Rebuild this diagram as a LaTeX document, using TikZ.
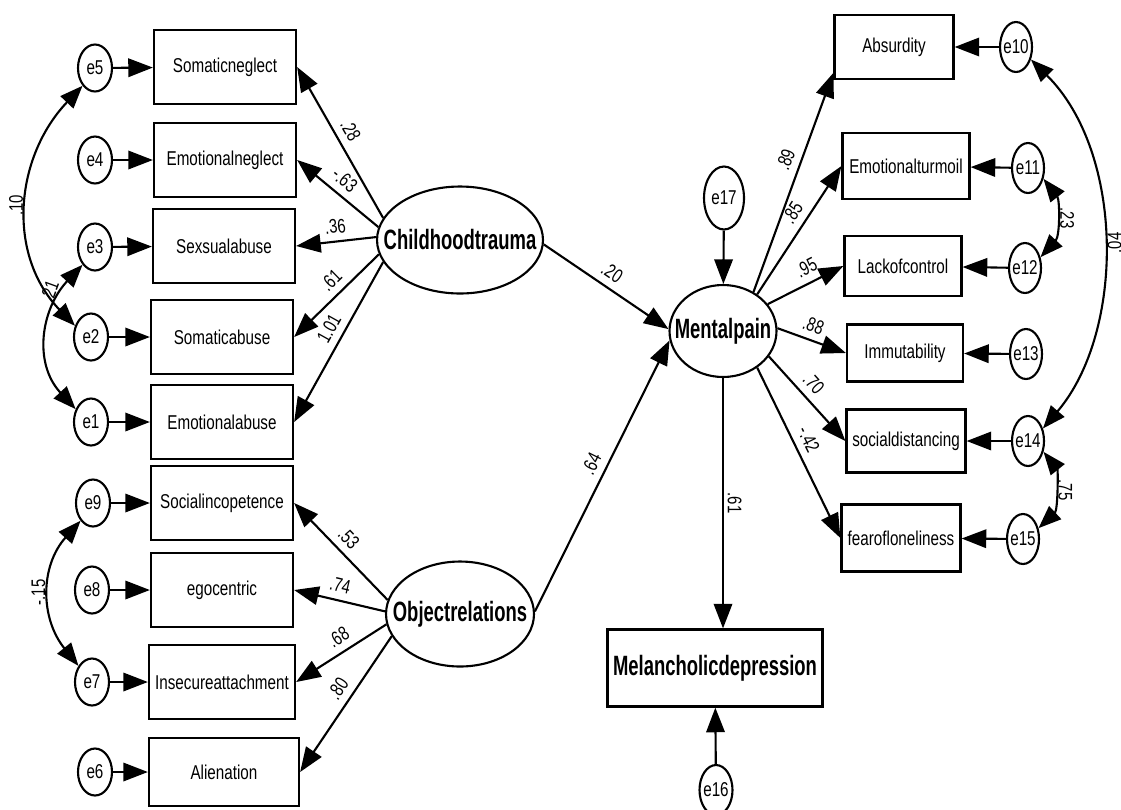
\documentclass[tikz,border=0pt]{standalone}
\usepackage{fontspec}
\newfontfamily\amosfont[FakeStretch=0.76]{Liberation Sans}
\newfontfamily\amosboldfont[FakeStretch=0.66]{Liberation Sans}
\newcommand{\obsfont}{\amosfont\fontsize{11.4pt}{13pt}\selectfont}
\newcommand{\latfont}{\amosboldfont\bfseries\fontsize{15.9pt}{18pt}\selectfont}
\newcommand{\coeffont}{\amosfont\fontsize{11.2pt}{13pt}\selectfont}
\newcommand{\zw}[1]{\makebox[0pt]{#1}}
\usepackage{tikz}
\usetikzlibrary{arrows.meta, shapes.geometric, calc}

\begin{document}
\begin{tikzpicture}[
    x=0.02cm, y=-0.02cm,
    obs/.style={draw, line width=1.3pt, minimum width=2.84cm, minimum height=1.48cm,
                inner sep=2pt, font=\obsfont},
    obsr/.style={obs, minimum width=2.38cm, minimum height=1.26cm},
    latent/.style={ellipse, draw, line width=1.2pt, inner sep=0pt, font=\latfont},
    err/.style={ellipse, draw, line width=1.2pt, inner sep=0pt,
                minimum width=0.68cm, minimum height=0.94cm, font=\obsfont},
    arr/.style={-{Triangle[length=14pt, width=10.5pt]}, line width=1.2pt},
    cov/.style={{Triangle[length=13pt, width=10pt]}-{Triangle[length=13pt, width=10pt]}, line width=1.2pt},
    coef/.style={font=\coeffont, sloped, above=2pt, inner sep=2pt},
    covlbl/.style={font=\coeffont, inner sep=2pt}
]
\useasboundingbox (0,0) rectangle (1121,809);

\node[obs] (somneg) at (225,67) {Somaticneglect};
\node[obs] (emoneg) at (225,160) {Emotionalneglect};
\node[obs] (sexab) at (224,246) {Sexsualabuse};
\node[obs] (somab) at (222,337) {Somaticabuse};
\node[obs] (emoab) at (222,422) {Emotionalabuse};
\node[obs] (socinc) at (222,503) {Socialincopetence};
\node[obs] (egoc) at (222,590) {egocentric};
\node[obs, minimum width=2.92cm] (insec) at (222,682) {Insecureattachment};
\node[obs, minimum width=3cm, minimum height=1.36cm] (alien) at (224,772) {Alienation};

\node[err] (e5) at (95,68) {\zw{e5}};
\node[err] (e4) at (95,160) {\zw{e4}};
\node[err] (e3) at (95,247) {\zw{e3}};
\node[err] (e2) at (91,337) {\zw{e2}};
\node[err] (e1) at (91,422) {\zw{e1}};
\node[err] (e9) at (93,503) {\zw{e9}};
\node[err] (e8) at (92,590) {\zw{e8}};
\node[err] (e7) at (92,682) {\zw{e7}};
\node[err] (e6) at (95,772) {\zw{e6}};

\node[latent, minimum width=3.32cm, minimum height=2.14cm] (trauma) at (460,240) {\zw{Childhoodtrauma}};
\node[latent, minimum width=2.96cm, minimum height=2.1cm] (objrel) at (460,614) {\zw{Objectrelations}};
\node[latent, minimum width=2.14cm, minimum height=1.84cm] (pain) at (723,331) {\zw{Mentalpain}};
\node[err, minimum width=0.8cm, minimum height=1.26cm] (e17) at (724,198) {\zw{e17}};
\node[obs, font=\latfont, minimum width=4.3cm, minimum height=1.54cm] (melan) at (715,668) {Melancholicdepression};
\node[err, minimum width=0.66cm, minimum height=1cm] (e16) at (716,790) {\zw{e16}};

\node[obsr, minimum height=1.28cm] (absurd) at (894,47) {Absurdity};
\node[obsr, minimum width=2.54cm, minimum height=1.32cm] (turmoil) at (906,166) {Emotionalturmoil};
\node[obsr, minimum width=2.34cm, minimum height=1.2cm] (lackctrl) at (903,266) {Lackofcontrol};
\node[obsr, minimum width=2.32cm, minimum height=1.14cm] (immut) at (905,353) {Immutability};
\node[obsr] (socdist) at (906,441) {socialdistancing};
\node[obsr, minimum height=1.34cm] (fearlone) at (901,538) {fearofloneliness};

\node[err, minimum width=0.64cm, minimum height=1cm] (e10) at (1016,47) {\zw{e10}};
\node[err, minimum width=0.64cm, minimum height=1cm] (e11) at (1028,168) {\zw{e11}};
\node[err, minimum width=0.64cm, minimum height=1cm] (e12) at (1025,268) {\zw{e12}};
\node[err, minimum width=0.64cm, minimum height=1cm] (e13) at (1026,354) {\zw{e13}};
\node[err, minimum width=0.64cm, minimum height=1cm] (e14) at (1028,441) {\zw{e14}};
\node[err, minimum width=0.64cm, minimum height=1cm] (e15) at (1023,539) {\zw{e15}};

\draw[arr] (e5) -- (somneg);
\draw[arr] (e4) -- (emoneg);
\draw[arr] (e3) -- (sexab);
\draw[arr] (e2) -- (somab);
\draw[arr] (e1) -- (emoab);
\draw[arr] (e9) -- (socinc);
\draw[arr] (e8) -- (egoc);
\draw[arr] (e7) -- (insec);
\draw[arr] (e6) -- (alien);

\draw[arr] (trauma.164) -- (somneg.east) node[coef, pos=0.53] {.28};
\draw[arr] (trauma.171) -- (emoneg.east) node[coef, pos=0.53] {-.63};
\draw[arr] (trauma.178) -- (sexab.east) node[coef, pos=0.49] {.36};
\draw[arr] (trauma.190) -- (somab.east) node[coef, pos=0.44] {.61};
\draw[arr] (trauma.196) -- (emoab.east) node[coef, pos=0.46] {1.01};
\draw[arr] (objrel.169) -- (socinc.east) node[coef, pos=0.53] {.53};
\draw[arr] (objrel.178) -- (egoc.east) node[coef, pos=0.53] {.74};
\draw[arr] (objrel.188) -- (insec.east) node[coef, pos=0.44] {.68};
\draw[arr] (objrel.198) -- (alien.east) node[coef, pos=0.45] {.80};

\draw[arr] (trauma.357) -- (pain.178) node[coef, pos=0.48] {.20};
\draw[arr] (objrel.2) -- (pain.190) node[coef, pos=0.52] {.64};
\draw[arr] (e17) -- (pain);
\draw[arr] (pain.south) -- (pain.south |- melan.north)
    node[covlbl, pos=0.5, rotate=-90, anchor=south] {.61};
\draw[arr] (e16) -- (melan);

\draw[arr] (pain.52) -- ($(absurd.west)!0.78!(absurd.south west)$) node[coef, pos=0.58] {.89};
\draw[arr] (pain.47) -- (turmoil.west) node[coef, pos=0.57] {.85};
\draw[arr] (pain.31) -- (lackctrl.west) node[coef, pos=0.6] {.95};
\draw[arr] (pain.3) -- (immut.west) node[coef, pos=0.45] {.88};
\draw[arr] (pain.331) -- (socdist.west) node[coef, pos=0.44] {.70};
\draw[arr] (pain.313) -- (fearlone.west) node[coef, pos=0.46] {-.42};

\draw[arr] (e10) -- (absurd);
\draw[arr] (e11) -- (turmoil);
\draw[arr] (e12) -- (lackctrl);
\draw[arr] (e13) -- (immut);
\draw[arr] (e14) -- (socdist);
\draw[arr] (e15) -- (fearlone);

\draw[cov] (e5.235) .. controls (15,157) and (6,254) .. (e2.145)
    node[covlbl, pos=0.5, rotate=90, anchor=south] {.10};
\draw[cov] (e3.235) .. controls (41,309) and (33,363) .. (e1.140)
    node[covlbl, pos=0.22, rotate=70, anchor=south] {.21};
\draw[cov] (e9.235) .. controls (40,566) and (40,618) .. (e7.130)
    node[covlbl, pos=0.5, rotate=90, anchor=south] {-.15};
\draw[cov] (e10.320) .. controls (1125,153) and (1125,332) .. (e14.40)
    node[covlbl, pos=0.5, rotate=90, anchor=north] {.04};
\draw[cov] (e11.325) .. controls (1060,200) and (1060,236) .. (e12.35)
    node[covlbl, pos=0.5, rotate=-90, anchor=south] {.23};
\draw[cov] (e14.325) .. controls (1058,470) and (1058,510) .. (e15.35)
    node[covlbl, pos=0.5, rotate=-90, anchor=south] {.75};
\end{tikzpicture}
\end{document}
